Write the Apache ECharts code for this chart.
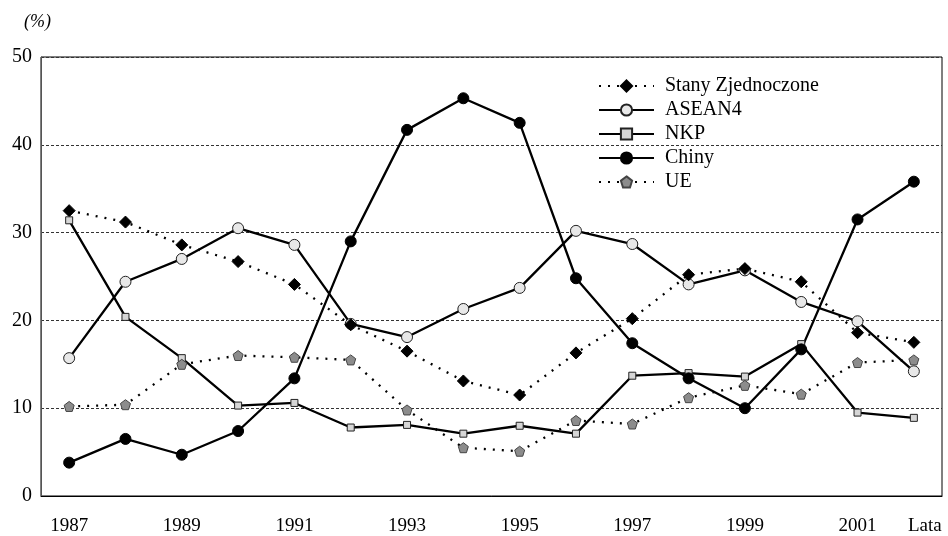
<!DOCTYPE html>
<html>
<head>
<meta charset="utf-8">
<script src="https://cdn.jsdelivr.net/npm/echarts@6/dist/echarts.min.js"></script>
<style>
  html, body { margin: 0; padding: 0; background: #fff; }
  #chart { width: 948px; height: 536px; }
</style>
</head>
<body>
<div id="chart"></div>
<script>
// lata
const years = ['1987', '1988', '1989', '1990', '1991', '1992', '1993', '1994',
  '1995', '1996', '1997', '1998', '1999', '2000', '2001', '2002']
const lastLabel = 'Lata'
const yTicks = [0, 10, 20, 30, 40, 50]

// udzialy (%)
const stany = [32.5, 31.2, 28.6, 26.7, 24.1, 19.5, 16.5, 13.1, 11.5, 16.3, 20.2, 25.2, 25.9, 24.4, 18.6, 17.5]
const asean4 = [15.7, 24.4, 27.0, 30.5, 28.6, 19.6, 18.1, 21.3, 23.7, 30.2, 28.7, 24.1, 25.7, 22.1, 19.9, 14.2]
const nkp = [31.4, 20.4, 15.7, 10.3, 10.6, 7.8, 8.1, 7.1, 8.0, 7.1, 13.7, 14.0, 13.6, 17.3, 9.5, 8.9]
const chiny = [3.8, 6.5, 4.7, 7.4, 13.4, 29.0, 41.7, 45.3, 42.5, 24.8, 17.4, 13.4, 10.0, 16.7, 31.5, 35.8]
const ue = [10.2, 10.4, 15.0, 16.0, 15.8, 15.5, 9.8, 5.5, 5.1, 8.6, 8.2, 11.2, 12.6, 11.6, 15.2, 15.5]

const serif = '"Liberation Serif", "DejaVu Serif", serif'
const pentagon = 'path://M0,-1 L0.951,-0.309 L0.588,0.809 L-0.588,0.809 L-0.951,-0.309 Z'
const lw = 2.3

const chart = echarts.init(document.getElementById('chart'))

const option = {
  backgroundColor: '#fff',
  animation: false,
  textStyle: { fontFamily: serif, color: '#000' },
  graphic: [
    {
      type: 'text',
      left: 24,
      top: 13,
      style: { text: '(%)', font: 'italic 18px ' + serif, fill: '#000' }
    }
  ],
  grid: {
    left: 41,
    right: 6,
    top: 57,
    bottom: 39,
    show: true,
    borderColor: '#000',
    borderWidth: 1
  },
  legend: {
    orient: 'vertical',
    left: 593,
    top: 71,
    itemWidth: 55,
    itemHeight: 14,
    itemGap: 4,
    data: ['Stany Zjednoczone', 'ASEAN4', 'NKP', 'Chiny', 'UE'],
    textStyle: { fontFamily: serif, fontSize: 20, lineHeight: 19, color: '#000', padding: [0, 0, 0, 6] }
  },
  xAxis: {
    type: 'category',
    data: years,
    boundaryGap: true,
    axisLine: { lineStyle: { color: '#000', width: 1 } },
    axisTick: { show: false },
    axisLabel: {
      margin: 21,
      fontSize: 19,
      fontFamily: serif,
      color: '#000',
      interval: (i) => i % 2 === 0 || i === years.length - 1,
      formatter: (v, i) => (i === years.length - 1 ? '{l|' + lastLabel + '}' : v),
      rich: { l: { fontSize: 19, fontFamily: serif, color: '#000', padding: [0, 0, 0, 22] } }
    },
    splitLine: { show: false }
  },
  yAxis: {
    type: 'value',
    min: yTicks[0],
    max: yTicks[yTicks.length - 1],
    interval: 10,
    axisLine: { show: true, lineStyle: { color: '#555', width: 1 } },
    axisTick: { show: false },
    axisLabel: { margin: 9, fontSize: 20, fontFamily: serif, color: '#000' },
    splitLine: { lineStyle: { color: '#333', type: [3, 2], width: 1 } }
  },
  series: [
    {
      name: 'ASEAN4',
      type: 'line',
      data: asean4,
      symbol: 'circle',
      symbolSize: 11,
      lineStyle: { color: '#000', width: lw },
      itemStyle: { color: '#e8e8e8', borderColor: '#222', borderWidth: 1 }
    },
    {
      name: 'Stany Zjednoczone',
      type: 'line',
      data: stany,
      symbol: 'diamond',
      symbolSize: 12,
      lineStyle: { color: '#000', width: lw, type: [2, 7] },
      itemStyle: { color: '#000', borderColor: '#000', borderWidth: 1 }
    },
    {
      name: 'NKP',
      type: 'line',
      data: nkp,
      symbol: 'rect',
      symbolSize: 7,
      lineStyle: { color: '#000', width: lw },
      itemStyle: { color: '#d6d6d6', borderColor: '#222', borderWidth: 1 }
    },
    {
      name: 'Chiny',
      type: 'line',
      data: chiny,
      symbol: 'circle',
      symbolSize: 11,
      lineStyle: { color: '#000', width: lw },
      itemStyle: { color: '#000', borderColor: '#000', borderWidth: 1 }
    },
    {
      name: 'UE',
      type: 'line',
      data: ue,
      symbol: pentagon,
      symbolSize: 10,
      lineStyle: { color: '#000', width: lw, type: [2, 7] },
      itemStyle: { color: '#8c8c8c', borderColor: '#444', borderWidth: 1 }
    }
  ]
}

chart.setOption(option)
</script>
</body>
</html>
